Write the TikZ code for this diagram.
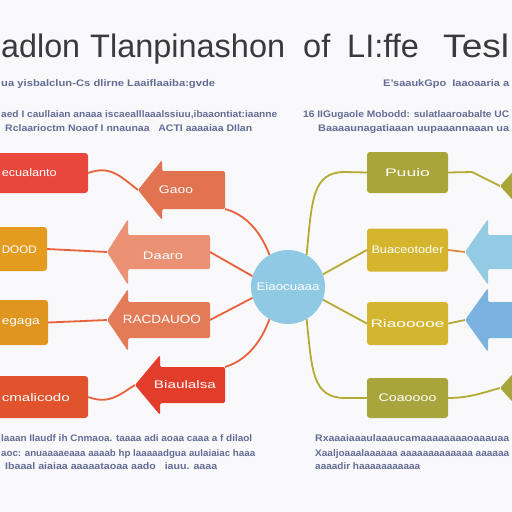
\documentclass[tikz,border=0pt]{standalone}
\usepackage{fontspec}
\setmainfont{Liberation Sans}
\usepackage{graphicx}
\definecolor{bgc}{HTML}{F9F9FB}
\definecolor{titlec}{HTML}{3A3A3E}
\definecolor{txtc}{HTML}{646C96}
\definecolor{lone}{HTML}{E8483B}
\definecolor{ltwo}{HTML}{E39C20}
\definecolor{lthree}{HTML}{E0951F}
\definecolor{lfour}{HTML}{E1532D}
\definecolor{rone}{HTML}{A9A53A}
\definecolor{rtwo}{HTML}{D5B52D}
\definecolor{rthree}{HTML}{D3B530}
\definecolor{rfour}{HTML}{A7A53B}
\definecolor{aone}{HTML}{E27350}
\definecolor{atwo}{HTML}{EA9273}
\definecolor{athree}{HTML}{E37B59}
\definecolor{afour}{HTML}{E23D2B}
\definecolor{bluea}{HTML}{93CBE4}
\definecolor{blueb}{HTML}{7BB3E0}
\definecolor{circc}{HTML}{8FC9E3}
\definecolor{lconnc}{HTML}{E8613B}
\definecolor{rconnc}{HTML}{B4AA36}
\definecolor{shortc}{HTML}{E08A40}
\newcommand{\fitw}[2]{\resizebox{#1}{\height}{#2}}
\newcommand{\flatarrow}[8]{%
  \fill[#8, rounded corners=1.5pt] (#2,#3) -- (#4,#3-#5) -- (#4,#3-#6) -- (#7,#3-#6) -- (#7,#3+#6) -- (#4,#3+#6) -- (#4,#3+#5) -- cycle;
  \coordinate (#1tip) at (#2,#3);
  \coordinate (#1end) at (#7,#3);
  \coordinate (#1up) at (#7,#3-#6);
  \coordinate (#1dn) at (#7,#3+#6);}
\begin{document}
\begin{tikzpicture}[x=1pt,y=-1pt,
  boxc/.style={rectangle, rounded corners=3pt, inner sep=0},
  lbl/.style={text=white, font=\fontsize{11}{11}\selectfont, inner sep=0},
  tl/.style={text=txtc, font=\bfseries\fontsize{9.5}{10}\selectfont, inner sep=0, anchor=base west},
  ttl/.style={text=titlec, font=\fontsize{32.5}{33}\selectfont, inner sep=0},
  lconn/.style={draw=lconnc, line width=1.8pt},
  rconn/.style={draw=rconnc, line width=1.8pt}]
\useasboundingbox (0,0) rectangle (512,512);
\clip (0,0) rectangle (512,512);
\fill[bgc] (0,0) rectangle (512,512);

% title
\node[ttl, anchor=base west] (t1) at (1,57) {\fitw{79pt}{adlon}};
\node[ttl, anchor=base west] (t2) at (90,57) {\fitw{195pt}{Tlanpinashon}};
\node[ttl, anchor=base west] (t3) at (303,57) {of};
\node[ttl, anchor=base west] (t4) at (347,57) {LI:ffe};
\node[ttl, anchor=base west] (t5) at (443,57) {\fitw{66pt}{Tesl}};

% small text
\node[tl] (s1) at (1,86) {\fitw{214pt}{ua yisbalclun-Cs dlirne Laaiflaaiba:gvde}};
\node[tl] (s2) at (383,86) {\fitw{126pt}{E'saaukGpo \ Iaaoaaria a}};
\node[tl] (p1) at (1,117) {\fitw{276pt}{aed I caullaian anaaa iscaealllaaalssiuu,ibaaontiat:iaanne}};
\node[tl] (p2) at (5,131) {\fitw{247pt}{Rclaarioctm Noaof I nnaunaa \ \ ACTI aaaaiaa DIlan}};
\node[tl] (p3) at (303,117) {\fitw{206pt}{16 IIGugaole Mobodd: sulatlaaroabalte UC}};
\node[tl] (p4) at (318,131) {\fitw{191pt}{Baaaaunagatiaaan uupaaannaaan ua}};
\node[tl] (b1) at (1,441) {\fitw{251pt}{laaan Ilaudf ih Cnmaoa. taaaa adi aoaa caaa a f dilaol}};
\node[tl] (b2) at (1,456) {\fitw{254pt}{aoc: anuaaaaeaaa aaaab hp laaaaadgua aulaiaiac haaa}};
\node[tl] (b3) at (5,469) {\fitw{212pt}{Ibaaal aiaiaa aaaaataoaa aado \ \ iauu. aaaa}};
\node[tl] (b4) at (315,441) {\fitw{194pt}{Rxaaaiaaaulaaaucamaaaaaaaaoaaauaa}};
\node[tl] (b5) at (315,456) {\fitw{194pt}{Xaaljoaaalaaaaaa aaaaaaaaaaaaa aaaaaa}};
\node[tl] (b6) at (315,469) {\fitw{105pt}{aaaadir haaaaaaaaaaa}};

% left boxes
\node[boxc, fill=lone, minimum width=108pt, minimum height=40pt] (L1) at (34,173) {};
\node[boxc, fill=ltwo, minimum width=67pt, minimum height=44pt] (L2) at (13.5,249) {};
\node[boxc, fill=lthree, minimum width=68pt, minimum height=45pt] (L3) at (14,322.5) {};
\node[boxc, fill=lfour, minimum width=108pt, minimum height=42pt] (L4) at (34,397) {};
\node[lbl, anchor=east] (L1t) at (57,173) {\fitw{55pt}{ecualanto}};
\node[lbl, anchor=east] (L2t) at (37,250) {\fitw{35pt}{DOOD}};
\node[lbl, anchor=east] (L3t) at (40,323) {\fitw{38pt}{egaga}};
\node[lbl, anchor=east] (L4t) at (70,398) {\fitw{68pt}{cmalicodo}};

% left arrows
\flatarrow{a1}{138}{190}{162}{30}{19}{225}{aone}
\flatarrow{a2}{107}{252}{128}{33}{17}{210}{atwo}
\flatarrow{a3}{107}{320}{128}{31}{18}{210}{athree}
\flatarrow{a4}{135}{385}{160}{30}{18}{225}{afour}
\node[lbl] (a1t) at (176,190) {\fitw{34pt}{Gaoo}};
\node[lbl] (a2t) at (163,256) {\fitw{40pt}{Daaro}};
\node[lbl, font=\fontsize{12}{12}\selectfont] (a3t) at (162,319) {\fitw{78pt}{RACDAUOO}};
\node[lbl] (a4t) at (185,385) {\fitw{62pt}{Biaulalsa}};

% circle
\node[circle, fill=circc, minimum size=74pt, inner sep=0, lbl] (c) at (288,287) {\fitw{63pt}{Eiaocuaaa}};

% right boxes
\node[boxc, fill=rone, minimum width=81pt, minimum height=41pt, lbl] (r1) at (407.5,172.5) {\fitw{45pt}{Puuio}};
\node[boxc, fill=rtwo, minimum width=81pt, minimum height=43pt, lbl] (r2) at (407.5,250) {\fitw{72pt}{Buaceotoder}};
\node[boxc, fill=rthree, minimum width=81pt, minimum height=43pt, lbl] (r3) at (407.5,323.5) {\fitw{74pt}{Riaooooe}};
\node[boxc, fill=rfour, minimum width=81pt, minimum height=40pt, lbl] (r4) at (407.5,398) {\fitw{58pt}{Coaoooo}};

% right arrows
\flatarrow{aA}{465}{252}{488}{33}{17}{540}{bluea}
\flatarrow{aB}{465}{320}{488}{32}{18}{540}{blueb}
\flatarrow{oT}{500}{186}{520}{22}{12}{540}{rone}
\flatarrow{oB}{500}{388}{520}{22}{12}{540}{rfour}

% left connectors
\draw[lconn] (L1.east) .. controls (110,165) and (120,176) .. (a1tip);
\draw[lconn] (L2.east) -- (a2tip);
\draw[lconn] (L3.east) -- (a3tip);
\draw[lconn] (L4.east) .. controls (110,405) and (120,394) .. (a4tip);
\draw[lconn] (a1dn) .. controls (248,215) and (262,235) .. (c.120);
\draw[lconn] (a2end) -- (c.163);
\draw[lconn] (a3end) -- (c.197);
\draw[lconn] (a4up) .. controls (248,360) and (262,340) .. (c.240);

% right connectors
\draw[rconn] (c.60) .. controls (312,200) and (312,172) .. (345,172) -- (r1.west);
\draw[rconn] (c.20) -- (r2.west);
\draw[rconn] (c.-20) -- (r3.west);
\draw[rconn] (c.-60) .. controls (312,370) and (312,398) .. (345,398) -- (r4.west);
\draw[rconn] (r1.east) -- (472,172) -- (oTtip);
\draw[draw=shortc, line width=1.8pt] (r2.east) -- (aAtip);
\draw[rconn] (r3.east) -- (aBtip);
\draw[rconn] (r4.east) .. controls (470,398) and (485,392) .. (oBtip);
\end{tikzpicture}
\end{document}
